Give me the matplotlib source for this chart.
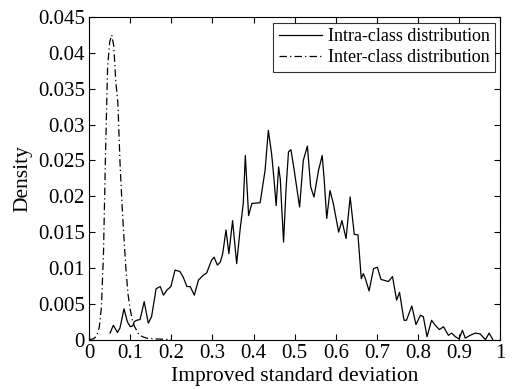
import numpy as np
import matplotlib.pyplot as plt

plt.rcParams['font.family'] = 'Liberation Serif'
plt.rcParams['mathtext.fontset'] = 'stix'

# density of the improved standard deviation, same-class pairs
intra_x = [0.051, 0.059, 0.069, 0.075, 0.085, 0.093, 0.100, 0.106, 0.110, 0.116,
           0.124, 0.134, 0.144, 0.152, 0.163, 0.173, 0.181, 0.189, 0.199, 0.209,
           0.221, 0.229, 0.238, 0.246, 0.256, 0.266, 0.278, 0.286, 0.298, 0.304,
           0.312, 0.319, 0.325, 0.333, 0.340, 0.349, 0.359, 0.367, 0.375, 0.380,
           0.388, 0.396, 0.416, 0.428, 0.436, 0.444, 0.450, 0.455, 0.461, 0.465,
           0.473, 0.479, 0.485, 0.491, 0.499, 0.512, 0.521, 0.531, 0.539, 0.547,
           0.558, 0.567, 0.572, 0.578, 0.586, 0.594, 0.607, 0.615, 0.625, 0.635,
           0.645, 0.654, 0.662, 0.667, 0.672, 0.681, 0.692, 0.701, 0.710, 0.728,
           0.738, 0.748, 0.755, 0.766, 0.772, 0.785, 0.795, 0.806, 0.813, 0.822,
           0.833, 0.842, 0.852, 0.862, 0.874, 0.882, 0.891, 0.900, 0.908, 0.915,
           0.927, 0.939, 0.951, 0.964, 0.973, 0.982]
intra_y = [0.0009, 0.0020, 0.0010, 0.0016, 0.0043, 0.0025, 0.0018, 0.0019, 0.0025, 0.0027,
           0.0028, 0.0053, 0.0023, 0.0032, 0.0071, 0.0074, 0.0062, 0.0069, 0.0074, 0.0097,
           0.0095, 0.0087, 0.0074, 0.0074, 0.0062, 0.0083, 0.0090, 0.0093, 0.0111, 0.0115,
           0.0104, 0.0108, 0.0120, 0.0153, 0.0120, 0.0166, 0.0106, 0.0152, 0.0190, 0.0257,
           0.0173, 0.0190, 0.0191, 0.0236, 0.0292, 0.0259, 0.0222, 0.0187, 0.0241, 0.0224,
           0.0136, 0.0210, 0.0262, 0.0265, 0.0236, 0.0185, 0.0250, 0.0270, 0.0213, 0.0199,
           0.0236, 0.0257, 0.0222, 0.0169, 0.0208, 0.0190, 0.0150, 0.0166, 0.0141, 0.0199,
           0.0147, 0.0146, 0.0085, 0.0092, 0.0085, 0.0068, 0.0099, 0.0101, 0.0084, 0.0081,
           0.0088, 0.0055, 0.0066, 0.0027, 0.0027, 0.0047, 0.0021, 0.0034, 0.0032, 0.0004,
           0.0027, 0.0020, 0.0014, 0.0018, 0.0006, 0.0009, 0.0004, 0.0001, 0.0013, 0.0002,
           0.0006, 0.0009, 0.0008, 0.0000, 0.0009, 0.0000]

# different-class pairs
inter_x = [0.0, 0.010, 0.015, 0.020, 0.025, 0.030, 0.035, 0.040, 0.045, 0.050,
           0.055, 0.060, 0.065, 0.070, 0.075, 0.080, 0.085, 0.090, 0.095, 0.100,
           0.105, 0.110, 0.120, 0.130, 0.140, 0.160, 0.200]
inter_y = [0.0, 0.0001, 0.0003, 0.0008, 0.0018, 0.0045, 0.0120, 0.0260, 0.0380, 0.0415,
           0.0425, 0.0410, 0.0360, 0.0330, 0.0250, 0.0190, 0.0140, 0.0095, 0.0062, 0.0042,
           0.0028, 0.0019, 0.0008, 0.0004, 0.0002, 0.0001, 0.0]

xticks = [0, 0.1, 0.2, 0.3, 0.4, 0.5, 0.6, 0.7, 0.8, 0.9, 1]
xlabels = ['0', '0.1', '0.2', '0.3', '0.4', '0.5', '0.6', '0.7', '0.8', '0.9', '1']
yticks = [0, 0.005, 0.01, 0.015, 0.02, 0.025, 0.03, 0.035, 0.04, 0.045]
ylabels = ['0', '0.005', '0.01', '0.015', '0.02', '0.025', '0.03', '0.035', '0.04', '0.045']

fig = plt.figure(figsize=(5.12, 3.89), dpi=100)
ax = fig.add_axes([0.174, 0.127, 0.803, 0.829])

ax.plot(intra_x, intra_y, color='black', lw=0.9, label='Intra-class distribution')
ax.plot(inter_x, inter_y, color='black', lw=0.9, linestyle=(0, (6, 2.5, 1, 2.5)),
        label='Inter-class distribution')

ax.set_xlim(0, 1)
ax.set_ylim(0, 0.045)
ax.set_xticks(xticks)
ax.set_xticklabels(xlabels)
ax.set_yticks(yticks)
ax.set_yticklabels(ylabels)
ax.tick_params(direction='in', length=4, width=0.8, top=True, right=True,
               labelsize=15, pad=3)
for s in ax.spines.values():
    s.set_linewidth(0.8)

ax.set_xlabel('Improved standard deviation', fontsize=15.5, labelpad=3)
ax.set_ylabel('Density', fontsize=15.5, labelpad=4)

leg = ax.legend(loc='upper right', fontsize=13, frameon=True, fancybox=False,
                edgecolor='black', borderaxespad=0.3, handlelength=2.4,
                handletextpad=0.3, borderpad=0.3, labelspacing=0.25)
leg.get_frame().set_linewidth(0.8)

fig.savefig('out.png', dpi=100)
